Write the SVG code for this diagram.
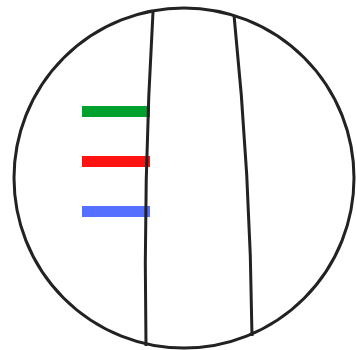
<svg xmlns="http://www.w3.org/2000/svg" width="357" height="350" viewBox="0 0 357 350">
<style>
.ln{fill:none;stroke:#222;stroke-width:3}
</style>
<rect width="357" height="350" fill="#fff"/>
<g id="bars">
<rect x="82" y="106" width="68" height="11" fill="#00A12D"/>
<rect x="82" y="156" width="68" height="11" fill="#FF1212"/>
<rect x="82" y="206" width="68" height="11" fill="#5570FF"/>
</g>
<g id="shape">
<circle class="ln" cx="184" cy="178" r="170"/>
<path class="ln" d="M153,12 Q143,180 146,346"/>
<path class="ln" d="M234,15 Q250.5,175 252,336"/>
</g>
</svg>
